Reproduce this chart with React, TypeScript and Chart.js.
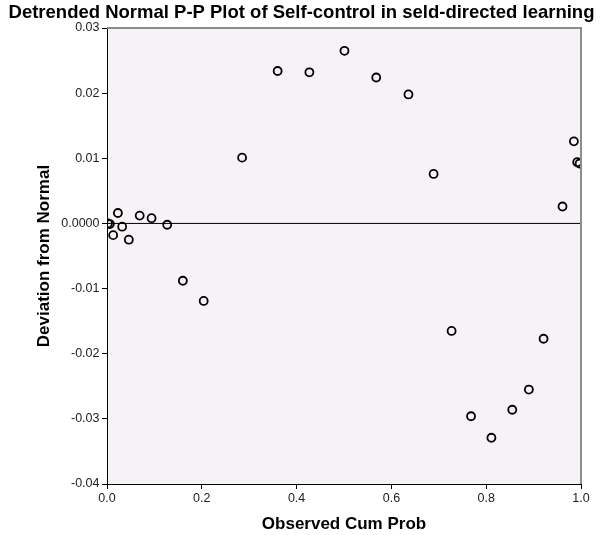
import React, { useEffect, useRef } from "react";
import { Chart, registerables } from "chart.js";

Chart.register(...registerables);

const observedCumProb = [
  0.002, 0.006, 0.013, 0.023, 0.032, 0.046, 0.069, 0.094, 0.127, 0.16, 0.204,
  0.285, 0.36, 0.427, 0.501, 0.568, 0.636, 0.689, 0.727, 0.768, 0.811, 0.855,
  0.89, 0.921, 0.961, 0.985, 0.992, 0.997,
];
const deviation = [
  0.0, -0.0001, -0.0018, 0.0016, -0.0005, -0.0025, 0.0012, 0.0008, -0.0002,
  -0.0088, -0.0119, 0.0101, 0.0234, 0.0232, 0.0265, 0.0224, 0.0198, 0.0076,
  -0.0165, -0.0296, -0.0329, -0.0286, -0.0255, -0.0177, 0.0026, 0.0126,
  0.0094, 0.0092,
];
const referenceLineX = [0, 1];
const referenceLineY = [0, 0];
const xTicks = [0, 0.2, 0.4, 0.6, 0.8, 1.0];
const yTickLabels: Record<string, string> = {
  "0.03": "0.03",
  "0.02": "0.02",
  "0.01": "0.01",
  "0": "0.0000",
  "-0.01": "-0.01",
  "-0.02": "-0.02",
  "-0.03": "-0.03",
  "-0.04": "-0.04",
};

const FONT = "'Liberation Sans', Arial, sans-serif";

const framePlugin = {
  id: "frame",
  beforeDraw(chart: any) {
    const { ctx, chartArea } = chart;
    ctx.save();
    ctx.fillStyle = "#f6f2f6";
    ctx.fillRect(chartArea.left, chartArea.top, chartArea.width, chartArea.height);
    ctx.restore();
  },
  afterDatasetsDraw(chart: any) {
    const { ctx, chartArea } = chart;
    ctx.save();
    ctx.strokeStyle = "#8c8c8c";
    ctx.lineWidth = 2;
    ctx.beginPath();
    ctx.moveTo(chartArea.left, chartArea.top);
    ctx.lineTo(chartArea.right, chartArea.top);
    ctx.lineTo(chartArea.right, chartArea.bottom);
    ctx.stroke();
    ctx.restore();
  },
};

export default function App() {
  const ref = useRef<HTMLCanvasElement>(null);
  useEffect(() => {
    document.body.style.margin = "0";
    const points = observedCumProb.map((x, i) => ({ x, y: deviation[i] }));
    const line = referenceLineX.map((x, i) => ({ x, y: referenceLineY[i] }));
    const chart = new Chart(ref.current!, {
      type: "scatter",
      data: {
        datasets: [
          {
            type: "line",
            data: line,
            borderColor: "#000",
            borderWidth: 1,
            pointRadius: 0,
            order: 2,
          } as any,
          {
            data: points,
            pointStyle: "circle",
            pointRadius: 4,
            pointBorderWidth: 1.8,
            pointBorderColor: "#000",
            pointBackgroundColor: "rgba(0,0,0,0)",
            order: 1,
          },
        ],
      },
      plugins: [framePlugin],
      options: {
        animation: false,
        responsive: false,
        layout: { padding: 0 },
        plugins: {
          legend: { display: false },
          tooltip: { enabled: false },
          title: {
            display: true,
            text: "Detrended Normal P-P Plot of Self-control in seld-directed learning",
            color: "#000",
            font: { family: FONT, size: 18.5, weight: "bold" },
            padding: { top: 1.5, bottom: 4.3 },
          },
        },
        scales: {
          x: {
            type: "linear",
            min: 0,
            max: 1,
            afterBuildTicks(scale: any) {
              scale.ticks = xTicks.map((v) => ({ value: v }));
            },
            afterFit(scale: any) {
              scale.height = 51;
            },
            ticks: {
              color: "#222",
              font: { family: FONT, size: 12.5 },
              padding: 2.5,
              maxRotation: 0,
              callback: (v: any) => Number(v).toFixed(1),
            },
            grid: {
              display: true,
              drawOnChartArea: false,
              drawTicks: true,
              tickLength: 5,
              color: "#000",
            },
            border: { display: true, color: "#000", width: 1 },
            title: {
              display: true,
              text: "Observed Cum Prob",
              color: "#000",
              font: { family: FONT, size: 17, weight: "bold" },
              padding: { top: 0, bottom: 0 },
            },
          },
          y: {
            type: "linear",
            min: -0.04,
            max: 0.03,
            afterFit(scale: any) {
              scale.width = 107;
            },
            ticks: {
              stepSize: 0.01,
              color: "#222",
              font: { family: FONT, size: 12.5 },
              padding: 2.5,
              callback: (v: any) => {
                const key = String(Math.round(Number(v) * 100) / 100);
                return yTickLabels[key === "-0" ? "0" : key] ?? "";
              },
            },
            grid: {
              display: true,
              drawOnChartArea: false,
              drawTicks: true,
              tickLength: 5,
              color: "#000",
            },
            border: { display: true, color: "#000", width: 1 },
            title: {
              display: true,
              text: "Deviation from Normal",
              color: "#000",
              font: { family: FONT, size: 17, weight: "bold" },
              padding: { top: 34, bottom: 0 },
            },
          },
          yRight: {
            type: "linear",
            position: "right",
            min: -0.04,
            max: 0.03,
            afterFit(scale: any) {
              scale.width = 22;
            },
            ticks: { display: false },
            grid: { display: false },
            border: { display: false },
          },
        },
      },
    });
    return () => chart.destroy();
  }, []);
  return (
    <div style={{ width: 603, height: 535 }}>
      <canvas ref={ref} width={603} height={535} />
    </div>
  );
}
